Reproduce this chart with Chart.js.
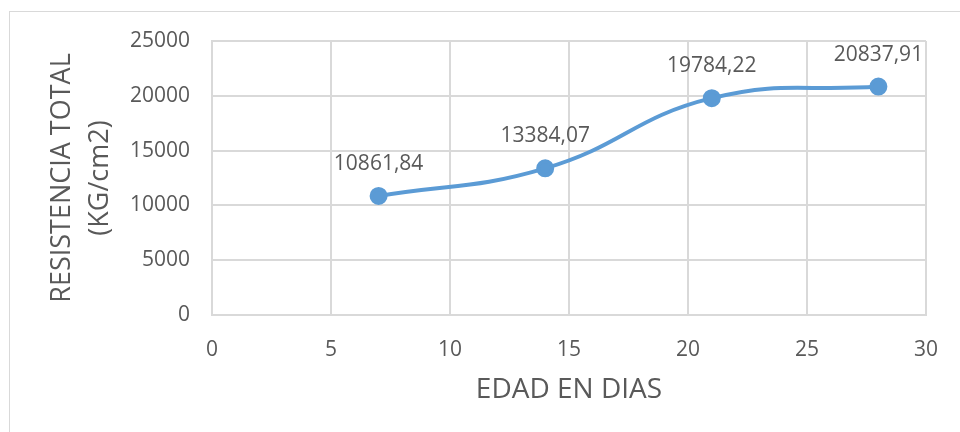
<!DOCTYPE html>
<html>
<head>
<meta charset="utf-8">
<script src="https://cdn.jsdelivr.net/npm/chart.js@4"></script>
<style>
  html, body { margin: 0; padding: 0; background: #fff; }
  #wrap { width: 960px; height: 432px; position: relative; }
</style>
</head>
<body>
<div id="wrap"><canvas id="resistenciaChart" width="960" height="432"></canvas></div>
<script>
// datos
const dias = [7, 14, 21, 28];
const resistencia = [10861.84, 13384.07, 19784.22, 20837.91];
const etiquetas = ['10861,84', '13384,07', '19784,22', '20837,91'];

const textColor = '#595959';
const gridColor = '#d9d9d9';
const fontFamily = '"Open Sans", "Liberation Sans", sans-serif';

// marco del gráfico
const framePlugin = {
  id: 'frame',
  beforeDraw(chart) {
    const ctx = chart.ctx;
    ctx.save();
    ctx.strokeStyle = gridColor;
    ctx.lineWidth = 1;
    ctx.strokeRect(9.5, 11.5, 1000, 500);
    ctx.restore();
  }
};

// etiquetas de datos encima de los puntos
const labelPlugin = {
  id: 'pointLabels',
  afterDatasetsDraw(chart) {
    const ctx = chart.ctx;
    const meta = chart.getDatasetMeta(0);
    ctx.save();
    ctx.font = '21px ' + fontFamily;
    ctx.fillStyle = textColor;
    ctx.textAlign = 'center';
    ctx.textBaseline = 'middle';
    meta.data.forEach((pt, i) => {
      ctx.fillText(etiquetas[i], pt.x, pt.y - 32);
    });
    ctx.restore();
  }
};

const ctx = document.getElementById('resistenciaChart').getContext('2d');
new Chart(ctx, {
  type: 'scatter',
  data: {
    datasets: [{
      data: dias.map((d, i) => ({ x: d, y: resistencia[i] })),
      showLine: true,
      borderColor: '#5b9bd5',
      backgroundColor: '#5b9bd5',
      borderWidth: 4,
      pointRadius: 7,
      pointHoverRadius: 7,
      tension: 0.45
    }]
  },
  options: {
    responsive: false,
    animation: false,
    layout: { padding: { left: 30, right: 32, top: 41, bottom: 10 } },
    plugins: {
      legend: { display: false },
      tooltip: { enabled: false }
    },
    scales: {
      x: {
        type: 'linear',
        min: 0, max: 30,
        ticks: { stepSize: 5, color: textColor, padding: 22, font: { size: 21, family: fontFamily },
                 callback: v => String(v) },
        grid: { color: gridColor, drawTicks: false, lineWidth: 2 },
        border: { color: gridColor, width: 2 },
        title: { display: true, text: 'EDAD EN DIAS', color: textColor, font: { size: 28, family: fontFamily },
                 padding: { top: 0, bottom: 15 } },
        afterFit(scale) { scale.height = 432 - 315 - 10; }
      },
      y: {
        min: 0, max: 25000,
        ticks: { stepSize: 5000, color: textColor, padding: 22, font: { size: 21, family: fontFamily },
                 callback: v => String(v) },
        grid: { color: gridColor, drawTicks: false, lineWidth: 2 },
        border: { color: gridColor, width: 2 },
        title: { display: true, text: ['RESISTENCIA TOTAL', '(KG/cm2)'], color: textColor,
                 font: { size: 27, family: fontFamily, lineHeight: 1.41 }, padding: { top: 13, bottom: 0 } },
        afterFit(scale) { scale.width = 212 - 30; }
      }
    }
  },
  plugins: [framePlugin, labelPlugin]
});
</script>
</body>
</html>
